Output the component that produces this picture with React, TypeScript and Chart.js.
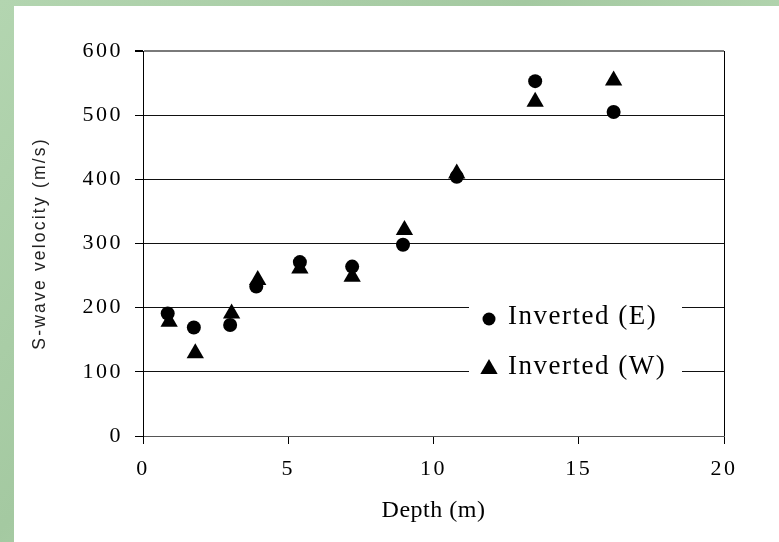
import React, { useEffect, useRef } from 'react';
import { Chart, registerables } from 'chart.js';

Chart.register(...registerables);

// ---- data ----
const depthE = [0.85, 1.75, 3.0, 3.9, 5.4, 7.2, 8.95, 10.8, 13.5, 16.2];
const velocityE = [191, 169, 173, 233, 271, 264, 298, 404, 553, 505];
const depthW = [0.9, 1.8, 3.05, 3.95, 5.4, 7.2, 9.0, 10.8, 13.5, 16.2];
const velocityW = [178, 129, 191, 243, 261, 248, 321, 409, 521, 554];
const seriesLabels = ['Inverted (E)', 'Inverted (W)'];
const xRange = [0, 20];
const xStep = 5;
const yRange = [0, 600];
const yStep = 100;
const xTitle = 'Depth (m)';
const yTitle = 'S-wave velocity (m/s)';

const SERIF = '"Liberation Serif", "Times New Roman", serif';
const SANS = '"Liberation Sans", Arial, sans-serif';

function patchScale(scale: any, titleLS: string, labelLS: string) {
  if (scale.__lsPatched) return;
  scale.__lsPatched = true;
  const dt = scale.drawTitle.bind(scale);
  const dl = scale.drawLabels.bind(scale);
  scale.drawTitle = (...args: any[]) => {
    const ctx = scale.ctx;
    ctx.save();
    ctx.letterSpacing = titleLS;
    dt(...args);
    ctx.restore();
  };
  scale.drawLabels = (...args: any[]) => {
    const ctx = scale.ctx;
    ctx.save();
    ctx.letterSpacing = labelLS;
    dl(...args);
    ctx.restore();
  };
}

const spacingPlugin = {
  id: 'spacing',
  beforeDraw(chart: any) {
    patchScale(chart.scales.x, '0.5px', '2.5px');
    patchScale(chart.scales.y, '2.2px', '2.5px');
  },
};

const legendPlugin = {
  id: 'boxLegend',
  afterDatasetsDraw(chart: any) {
    const ctx = chart.ctx;
    const ca = chart.chartArea;
    const left = ca.right - 255;
    const right = ca.right - 42;
    const top = ca.top + 236;
    const bottom = ca.top + 342;
    ctx.save();
    ctx.fillStyle = '#ffffff';
    ctx.fillRect(left, top, right - left, bottom - top);
    const mx = left + 20;
    const y1 = ca.top + 268;
    const y2 = ca.top + 318;
    ctx.fillStyle = '#000';
    ctx.beginPath();
    ctx.arc(mx, y1, 6.5, 0, Math.PI * 2);
    ctx.fill();
    const r = 10;
    ctx.beginPath();
    ctx.moveTo(mx, y2 - r);
    ctx.lineTo(mx + r * Math.sin((2 * Math.PI) / 3), y2 + r * 0.5);
    ctx.lineTo(mx - r * Math.sin((2 * Math.PI) / 3), y2 + r * 0.5);
    ctx.closePath();
    ctx.fill();
    ctx.font = `27px ${SERIF}`;
    (ctx as any).letterSpacing = '1.5px';
    ctx.textAlign = 'left';
    ctx.textBaseline = 'middle';
    ctx.fillText(seriesLabels[0], mx + 19, y1 - 2);
    ctx.fillText(seriesLabels[1], mx + 19, y2 - 2);
    ctx.restore();
  },
};

export default function App() {
  const ref = useRef<HTMLCanvasElement | null>(null);

  useEffect(() => {
    if (!ref.current) return;
    const chart = new Chart(ref.current, {
      type: 'scatter',
      data: {
        datasets: [
          {
            label: seriesLabels[0],
            data: depthE.map((x, i) => ({ x, y: velocityE[i] })),
            pointStyle: 'circle',
            pointRadius: 7,
            pointHoverRadius: 7,
            backgroundColor: '#000',
            borderColor: '#000',
            borderWidth: 0,
          },
          {
            label: seriesLabels[1],
            data: depthW.map((x, i) => ({ x, y: velocityW[i] })),
            pointStyle: 'triangle',
            pointRadius: 10,
            pointHoverRadius: 10,
            backgroundColor: '#000',
            borderColor: '#000',
            borderWidth: 0,
          },
        ],
      },
      options: {
        responsive: false,
        animation: false,
        layout: { padding: { left: 30, right: 55, top: 51, bottom: 17 } },
        plugins: {
          legend: { display: false },
          tooltip: { enabled: false },
        },
        scales: {
          x: {
            type: 'linear',
            min: xRange[0],
            max: xRange[1],
            ticks: {
              stepSize: xStep,
              color: '#000',
              font: { family: SERIF, size: 22 },
              padding: 12,
              maxRotation: 0,
            },
            grid: {
              drawOnChartArea: true,
              drawTicks: true,
              tickLength: 8,
              tickColor: '#000',
              color: (c: any) => (c.tick && c.tick.value === xRange[1] ? '#000' : 'rgba(0,0,0,0)'),
              lineWidth: 1,
            },
            border: { display: true, color: '#555', width: 1 },
            title: {
              display: true,
              text: xTitle,
              color: '#000',
              font: { family: SERIF, size: 24 },
              padding: 0,
            },
            afterFit: (s: any) => {
              s.height = 89;
            },
          },
          y: {
            type: 'linear',
            min: yRange[0],
            max: yRange[1],
            ticks: {
              stepSize: yStep,
              color: '#000',
              font: { family: SERIF, size: 22 },
              padding: 12,
            },
            grid: {
              drawTicks: true,
              tickLength: 8,
              tickColor: '#000',
              color: (c: any) => (c.tick && c.tick.value === yRange[1] ? '#7a7a7a' : '#111'),
              lineWidth: (c: any) => (c.tick && c.tick.value === yRange[1] ? 2 : 1),
            },
            border: { display: true, color: '#000', width: 1 },
            title: {
              display: true,
              text: yTitle,
              color: '#222',
              font: { family: SANS, size: 17.5 },
              padding: 0,
            },
            afterFit: (s: any) => {
              s.width = 113;
            },
          },
        },
      },
      plugins: [spacingPlugin, legendPlugin],
    });
    return () => chart.destroy();
  }, []);

  return (
    <div
      style={{
        position: 'fixed',
        left: 0,
        top: 0,
        width: 779,
        height: 542,
        background: 'linear-gradient(135deg, #b3d5b0 0%, #a4c9a1 40%, #b7d8b3 70%, #a8cca5 100%)',
        overflow: 'hidden',
      }}
    >
      <div
        style={{
          position: 'absolute',
          left: 14,
          top: 6,
          right: 0,
          bottom: 0,
          background: '#ffffff',
        }}
      />
      <canvas
        ref={ref}
        width={779}
        height={542}
        style={{ position: 'absolute', left: 0, top: 0, width: 779, height: 542 }}
      />
    </div>
  );
}
